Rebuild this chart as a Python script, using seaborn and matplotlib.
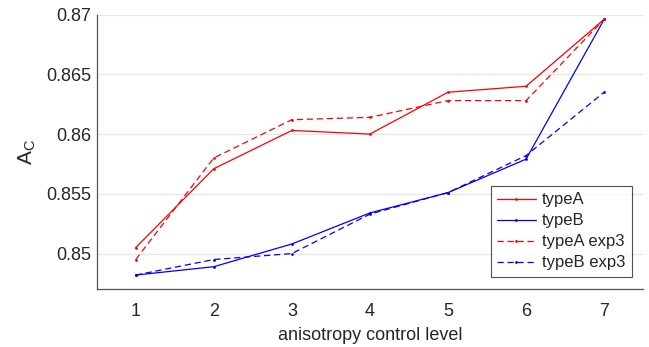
import pandas as pd
import numpy as np
import matplotlib
matplotlib.use('Agg')
import matplotlib.pyplot as plt
import seaborn as sns

levels = [1, 2, 3, 4, 5, 6, 7]
typeA = [0.8505, 0.8571, 0.8603, 0.8600, 0.8635, 0.8640, 0.8696]
typeB = [0.8482, 0.8489, 0.8508, 0.8534, 0.8551, 0.8579, 0.8696]
typeA_exp3 = [0.8495, 0.8580, 0.8612, 0.8614, 0.8628, 0.8628, 0.8696]
typeB_exp3 = [0.8482, 0.8495, 0.8500, 0.8533, 0.8551, 0.8582, 0.8635]

series = {'typeA': typeA, 'typeB': typeB, 'typeA exp3': typeA_exp3, 'typeB exp3': typeB_exp3}
data = pd.concat([pd.DataFrame({'level': levels, 'AC': v, 'name': k}) for k, v in series.items()])

sns.set_style('white')
plt.rcParams['font.family'] = ['Liberation Sans', 'DejaVu Sans']

fig = plt.figure(figsize=(6.49, 3.47), dpi=100)
ax = fig.add_axes([0.149, 0.166, 0.842, 0.792])

palette = {'typeA': '#ff0000', 'typeB': '#0000ff', 'typeA exp3': '#ff0000', 'typeB exp3': '#0000ff'}
dashes = {'typeA': '', 'typeB': '', 'typeA exp3': (5, 3), 'typeB exp3': (5, 3)}
sns.lineplot(data=data, x='level', y='AC', hue='name', style='name', palette=palette,
             dashes=dashes, markers={k: '.' for k in series}, markersize=4, linewidth=0.9,
             markeredgewidth=0, ax=ax)

ax.set_xlim(0.5, 7.5)
ax.set_ylim(0.847, 0.87)
ax.set_xticks(levels)
ax.set_yticks([0.85, 0.855, 0.86, 0.865, 0.87])
ax.set_yticklabels(['0.85', '0.855', '0.86', '0.865', '0.87'])
ax.yaxis.grid(True, color='#e6e6e6', linewidth=0.9)
ax.set_axisbelow(True)
for s in ['top', 'right']:
    ax.spines[s].set_visible(False)
for s in ['left', 'bottom']:
    ax.spines[s].set_color('#555555')
    ax.spines[s].set_linewidth(0.9)
ax.tick_params(direction='in', length=4, width=0.8, color='#555555', labelsize=13,
               labelcolor='#262626')
ax.tick_params(axis='x', pad=9.5)
ax.tick_params(axis='y', pad=4)
ax.set_xlabel('anisotropy control level', fontsize=13, color='#262626', labelpad=5)
ax.set_ylabel('A$_\\mathregular{C}$', fontsize=15, color='#262626', labelpad=6)

leg = ax.legend(loc='lower right', bbox_to_anchor=(0.980, 0.045), borderaxespad=0, fontsize=12,
                frameon=True, fancybox=False, handlelength=2.3, borderpad=0.4,
                labelspacing=0.36, handletextpad=0.4)
leg.get_frame().set_edgecolor('#262626')
leg.get_frame().set_linewidth(0.8)

fig.savefig('out.png', dpi=100)
